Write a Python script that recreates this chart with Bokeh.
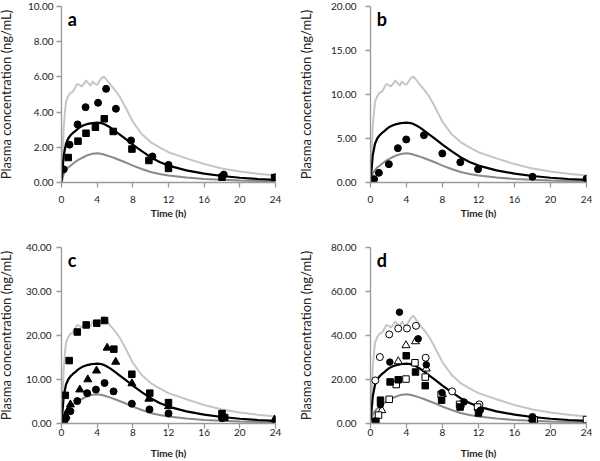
from bokeh.plotting import figure
from bokeh.models import Range1d, NumeralTickFormatter, Label
from bokeh.layouts import column, row
from bokeh.embed import file_html
from bokeh.resources import INLINE

FONT = "Lato"

# ---------------- data ----------------
t_curve = [0, 0.25, 0.5, 0.75, 1, 1.25, 1.5, 1.75, 2, 2.25, 2.5, 2.75, 3, 3.25, 3.5, 3.75, 4,
           4.25, 4.5, 4.75, 5, 5.5, 6, 6.5, 7, 7.5, 8, 9, 10, 11, 12, 14, 16, 18, 20, 22, 24]

# panel a
a_upper = [0, 3.2, 4.6, 4.9, 5.1, 5.15, 5.35, 5.6, 5.55, 5.45, 5.6, 5.8, 5.65, 5.5, 5.75, 5.6, 5.55,
           5.75, 5.95, 6.02, 5.88, 5.55, 5.25, 4.9, 4.45, 3.95, 3.45, 2.75, 2.3, 2.0, 1.72, 1.37, 1.05,
           0.8, 0.62, 0.5, 0.4]
a_mean = [0, 1.55, 2.2, 2.5, 2.68, 2.8, 2.9, 3.02, 3.12, 3.19, 3.25, 3.3, 3.33, 3.36, 3.38, 3.39, 3.4,
          3.39, 3.37, 3.33, 3.27, 3.12, 2.93, 2.74, 2.55, 2.35, 2.15, 1.78, 1.44, 1.17, 0.96, 0.69, 0.5,
          0.37, 0.27, 0.2, 0.15]
a_lower = [0, 0.5, 0.72, 0.85, 0.95, 1.05, 1.15, 1.24, 1.32, 1.39, 1.45, 1.51, 1.56, 1.6, 1.63, 1.65, 1.66,
           1.65, 1.62, 1.59, 1.55, 1.47, 1.38, 1.28, 1.18, 1.07, 0.96, 0.77, 0.6, 0.48, 0.4, 0.28, 0.2,
           0.15, 0.11, 0.09, 0.07]
a_circle_t = [0.25, 0.9, 1.8, 2.7, 4.1, 5.0, 6.1, 7.8, 10.2, 12.0, 18.2, 24.0]
a_circle_c = [0.75, 2.15, 3.3, 4.28, 4.53, 5.32, 4.19, 2.39, 1.48, 1.0, 0.45, 0.3]
a_square_t = [0.75, 1.85, 2.75, 3.8, 4.8, 5.8, 7.9, 9.8, 12.0, 18.0, 23.9]
a_square_c = [1.42, 2.35, 2.8, 3.14, 3.62, 2.9, 1.9, 1.25, 0.8, 0.3, 0.28]

# panel b
b_upper = [0, 6.4, 9.2, 9.8, 10.2, 10.3, 10.7, 11.2, 11.1, 10.9, 11.2, 11.6, 11.3, 11.0, 11.5, 11.2, 11.1,
           11.5, 11.9, 12.04, 11.76, 11.1, 10.5, 9.8, 8.9, 7.9, 6.9, 5.5, 4.6, 4.0, 3.44, 2.74, 2.1,
           1.6, 1.24, 1.0, 0.8]
b_mean = [0, 3.1, 4.4, 5.0, 5.36, 5.6, 5.8, 6.04, 6.24, 6.38, 6.5, 6.6, 6.66, 6.72, 6.76, 6.78, 6.8,
          6.78, 6.74, 6.66, 6.54, 6.24, 5.86, 5.48, 5.1, 4.7, 4.3, 3.56, 2.88, 2.34, 1.92, 1.38, 1.0,
          0.74, 0.54, 0.4, 0.3]
b_lower = [0, 1.0, 1.44, 1.7, 1.9, 2.1, 2.3, 2.48, 2.64, 2.78, 2.9, 3.02, 3.12, 3.2, 3.26, 3.3, 3.32,
           3.3, 3.24, 3.18, 3.1, 2.94, 2.76, 2.56, 2.36, 2.14, 1.92, 1.54, 1.2, 0.96, 0.8, 0.56, 0.4,
           0.3, 0.22, 0.18, 0.14]
b_circle_t = [0.4, 0.93, 2.04, 3.04, 3.97, 5.94, 7.98, 9.98, 11.95, 18.0, 24.0]
b_circle_c = [0.38, 1.10, 2.08, 3.90, 4.89, 5.38, 3.30, 2.31, 1.51, 0.65, 0.42]

# panel c
c_upper = [0, 12.8, 18.4, 19.6, 20.4, 20.6, 21.4, 22.4, 22.2, 21.8, 22.4, 23.2, 22.6, 22.0, 23.3, 22.4, 22.2,
           23.0, 23.8, 24.3, 23.5, 22.2, 21.0, 19.6, 17.8, 15.8, 13.8, 11.0, 9.2, 8.0, 6.9, 5.5, 4.2,
           3.2, 2.5, 2.0, 1.6]
c_mean = [0, 6.2, 8.8, 10.0, 10.72, 11.2, 11.6, 12.08, 12.48, 12.76, 13.0, 13.2, 13.32, 13.44, 13.52, 13.56,
          13.6, 13.56, 13.48, 13.32, 13.08, 12.48, 11.72, 10.96, 10.2, 9.4, 8.6, 7.12, 5.76, 4.68, 3.84,
          2.76, 2.0, 1.48, 1.08, 0.8, 0.6]
c_lower = [0, 2.0, 2.88, 3.4, 3.8, 4.2, 4.6, 4.96, 5.28, 5.56, 5.8, 6.04, 6.24, 6.4, 6.52, 6.6, 6.64,
           6.6, 6.48, 6.36, 6.2, 5.88, 5.52, 5.12, 4.72, 4.28, 3.84, 3.08, 2.4, 1.92, 1.6, 1.12, 0.8,
           0.6, 0.44, 0.36, 0.28]
c_square_t = [0.43, 0.86, 1.77, 2.77, 3.96, 4.83, 5.87, 7.89, 9.9, 12.0, 18.0, 18.3]
c_square_c = [6.4, 14.3, 20.8, 22.4, 22.8, 23.4, 16.9, 11.2, 6.9, 4.75, 2.26, 1.36]
c_tri_t = [0.25, 0.5, 0.75, 1.0, 2.05, 2.95, 3.93, 5.12, 6.08, 7.9, 9.8, 12.0, 18.2, 23.9]
c_tri_c = [0.8, 1.8, 3.0, 4.3, 7.7, 10.0, 12.0, 17.2, 14.0, 9.1, 5.6, 3.9, 1.5, 0.9]
c_circle_t = [0.25, 0.5, 1.0, 1.77, 2.88, 3.86, 4.83, 5.84, 7.89, 9.87, 12.0, 18.0, 24.0]
c_circle_c = [0.5, 1.2, 2.8, 5.1, 6.9, 7.7, 9.2, 7.3, 4.5, 3.2, 2.3, 1.2, 0.5]

# panel d
d_upper = [0, 25.6, 36.8, 39.2, 40.8, 41.2, 42.8, 44.8, 44.4, 43.6, 44.8, 46.4, 45.2, 44.0, 46.4, 44.8, 44.4,
           46.4, 48.0, 49.0, 47.6, 44.8, 42.2, 39.4, 35.8, 31.8, 27.8, 22.2, 18.4, 16.0, 13.8, 11.0, 8.4,
           6.4, 5.0, 4.0, 3.2]
d_mean = [0, 12.4, 17.6, 20.0, 21.44, 22.4, 23.2, 24.16, 24.96, 25.52, 26.0, 26.4, 26.64, 26.88, 27.04, 27.12,
          27.2, 27.12, 26.96, 26.64, 26.16, 24.96, 23.44, 21.92, 20.4, 18.8, 17.2, 14.24, 11.52, 9.36, 7.68,
          5.52, 4.0, 2.96, 2.16, 1.6, 1.2]
d_lower = [0, 4.0, 5.76, 6.8, 7.6, 8.4, 9.2, 9.92, 10.56, 11.12, 11.6, 12.08, 12.48, 12.8, 13.04, 13.2, 13.28,
           13.2, 12.96, 12.72, 12.4, 11.76, 11.04, 10.24, 9.44, 8.56, 7.68, 6.16, 4.8, 3.84, 3.2, 2.24, 1.6,
           1.2, 0.88, 0.72, 0.56]
d_ocircle_t = [0.25, 0.53, 1.04, 2.08, 3.08, 4.05, 5.05, 6.13, 9.07, 12.1, 18.0]
d_ocircle_c = [0.5, 19.6, 30.2, 40.5, 43.2, 43.2, 44.4, 29.9, 14.6, 8.7, 3.0]
d_fcircle_t = [0.5, 1.1, 2.15, 3.22, 5.3, 6.2, 7.95, 10.4, 12.2, 18.0]
d_fcircle_c = [1.0, 8.5, 27.9, 50.6, 38.5, 26.7, 14.0, 9.8, 6.0, 2.8]
d_otri_t = [0.5, 1.25, 3.08, 3.94, 5.0, 6.2, 8.0, 10.0, 12.0, 18.0]
d_otri_c = [0.8, 6.0, 28.2, 35.5, 37.3, 24.9, 13.3, 8.5, 7.0, 2.2]
d_fsquare_t = [0.6, 1.11, 2.18, 3.08, 3.97, 5.0, 6.08, 7.9, 9.96, 12.0, 18.0]
d_fsquare_c = [1.0, 10.6, 18.9, 19.9, 30.8, 23.4, 17.2, 10.6, 7.5, 4.8, 2.0]
d_osquare_t = [0.3, 0.89, 2.08, 2.86, 3.94, 4.94, 6.08, 7.85, 9.9, 11.9, 18.2, 24.0]
d_osquare_c = [0.2, 3.8, 11.0, 17.7, 20.2, 27.6, 21.1, 13.3, 8.7, 7.5, 1.7, 1.8]

x_ticks = [0, 4, 8, 12, 16, 20, 24]
a_yticks = [0, 2, 4, 6, 8, 10]
b_yticks = [0, 5, 10, 15, 20]
c_yticks = [0, 10, 20, 30, 40]
d_yticks = [0, 20, 40, 60, 80]

UPPER_COL = "#c6c6c6"
LOWER_COL = "#8a8a8a"
AXIS_COL = "#9a9a9a"
TEXT_COL = "#222222"


def make_panel(letter, yticks, upper, mean, lower, markers, *, w, h, left, right, top, bottom,
               xstand, xlabstand, ystand, ylabstand):
    p = figure(width=w, height=h, output_backend="svg", toolbar_location=None,
               x_range=Range1d(0, 24), y_range=Range1d(yticks[0], yticks[-1]),
               min_border_left=left, min_border_right=right,
               min_border_top=top, min_border_bottom=bottom)
    p.outline_line_color = None
    p.grid.visible = False
    p.background_fill_color = "white"
    p.border_fill_color = "white"

    for ax in (p.xaxis[0], p.yaxis[0]):
        ax.axis_line_color = AXIS_COL
        ax.axis_line_width = 1.3
        ax.major_tick_line_color = AXIS_COL
        ax.major_tick_line_width = 1.3
        ax.major_tick_out = 5
        ax.major_tick_in = 0
        ax.minor_tick_line_color = None
        ax.major_label_text_font = FONT
        ax.major_label_text_font_size = "10px"
        ax.major_label_text_color = TEXT_COL
        ax.axis_label_text_color = TEXT_COL
        ax.axis_label_text_font = FONT

    p.xaxis.ticker = x_ticks
    p.xaxis.axis_label = "Time (h)"
    p.xaxis.axis_label_text_font_style = "bold"
    p.xaxis.axis_label_text_font_size = "10px"
    p.xaxis.major_label_standoff = xstand
    p.xaxis.axis_label_standoff = xlabstand

    p.yaxis.ticker = yticks
    p.yaxis.formatter = NumeralTickFormatter(format="0.00")
    p.yaxis.axis_label = "Plasma concentration (ng/mL)"
    p.yaxis.axis_label_text_font_style = "normal"
    p.yaxis.axis_label_text_font_size = "13px"
    p.yaxis.major_label_standoff = ystand
    p.yaxis.axis_label_standoff = ylabstand

    p.line(t_curve, upper, line_color=UPPER_COL, line_width=2)
    p.line(t_curve, lower, line_color=LOWER_COL, line_width=2)
    p.line(t_curve, mean, line_color="black", line_width=2.2)

    for (tx, cy, marker, filled, size) in markers:
        p.scatter(tx, cy, marker=marker, size=size,
                  fill_color="black" if filled else "white",
                  line_color="black", line_width=1)

    p.add_layout(Label(x=0.7, y=yticks[-1], text=letter, text_baseline="top",
                       text_font=FONT, text_font_style="bold", text_font_size="18px",
                       text_color="black", y_offset=-1))
    return p


pa = make_panel("a", a_yticks, a_upper, a_mean, a_lower,
                [(a_circle_t, a_circle_c, "circle", True, 7),
                 (a_square_t, a_square_c, "square", True, 6.5)],
                w=300, h=230, left=59, right=19, top=6, bottom=48,
                xstand=8, xlabstand=1, ystand=3, ylabstand=11)
pb = make_panel("b", b_yticks, b_upper, b_mean, b_lower,
                [(b_circle_t, b_circle_c, "circle", True, 7)],
                w=298, h=230, left=68, right=6, top=6, bottom=48,
                xstand=8, xlabstand=1, ystand=9, ylabstand=14)
pc = make_panel("c", c_yticks, c_upper, c_mean, c_lower,
                [(c_circle_t, c_circle_c, "circle", True, 7),
                 (c_tri_t, c_tri_c, "triangle", True, 8),
                 (c_square_t, c_square_c, "square", True, 6.5)],
                w=300, h=231, left=59, right=19, top=17, bottom=38,
                xstand=0, xlabstand=8, ystand=5, ylabstand=9)
pd = make_panel("d", d_yticks, d_upper, d_mean, d_lower,
                [(d_ocircle_t, d_ocircle_c, "circle", False, 7),
                 (d_otri_t, d_otri_c, "triangle", False, 8),
                 (d_osquare_t, d_osquare_c, "square", False, 6.5),
                 (d_fsquare_t, d_fsquare_c, "square", True, 6.5),
                 (d_fcircle_t, d_fcircle_c, "circle", True, 6.5)],
                w=298, h=231, left=68, right=6, top=17, bottom=38,
                xstand=0, xlabstand=8, ystand=9, ylabstand=14)

layout = column(row(pa, pb), row(pc, pd))
layout.styles = {"margin-left": "-6px"}

open("out.html", "w").write(file_html(layout, INLINE))
